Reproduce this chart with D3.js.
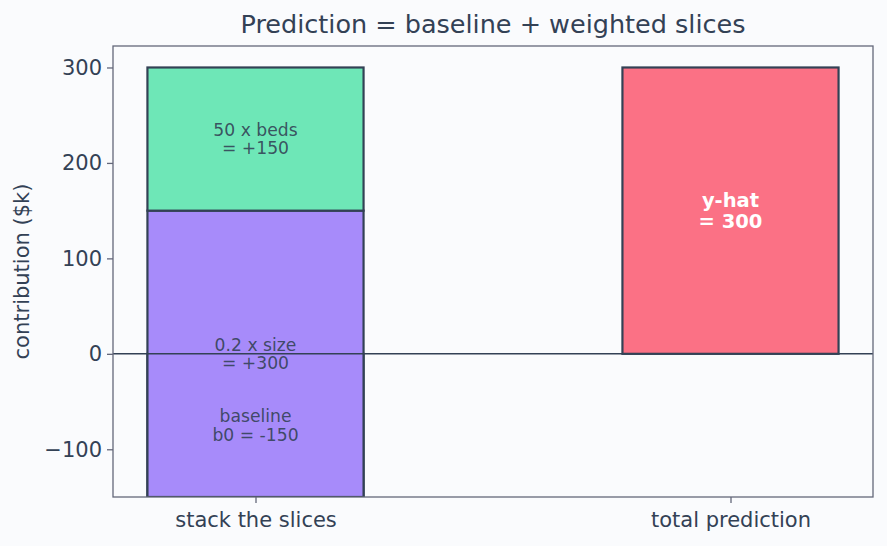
<!DOCTYPE html>
<html>
<head>
<meta charset="utf-8">
<script src="https://cdn.jsdelivr.net/npm/d3@7"></script>
<style>
  body { margin: 0; background: #fafbfd; }
  text { font-family: "DejaVu Sans", sans-serif; }
</style>
</head>
<body>
<div id="chart"></div>
<script>
// categories on the x axis
var categories = ["stack the slices", "total prediction"];

// slices stacked in the first bar
var sliceNames = ["baseline\nb0 = -150", "0.2 x size\n= +300", "50 x beds\n= +150"];
var sliceValues = [-150, 300, 150];
var sliceColors = ["#a78bfa", "#a78bfa", "#6ee7b7"];

var yTicks = [-100, 0, 100, 200, 300];

var width = 887, height = 546;
var margin = { top: 46, right: 14, bottom: 49, left: 113 };

var svg = d3.select("#chart").append("svg")
  .attr("width", width)
  .attr("height", height);

svg.append("rect")
  .attr("width", width).attr("height", height)
  .attr("fill", "#fafbfd");

var x = d3.scaleLinear()
  .domain([-0.3, 1.3])
  .range([margin.left, width - margin.right]);

var y = d3.scaleLinear()
  .domain([-150, 322.5])
  .range([height - margin.bottom, margin.top]);

var barW = 0.455;

// cumulative bottoms for the stack
var bottoms = [];
var acc = 0;
sliceValues.forEach(function (v) { bottoms.push(acc); acc += v; });
var total = acc;

var slices = sliceValues.map(function (v, i) {
  return { name: sliceNames[i], value: v, bottom: bottoms[i], color: sliceColors[i] };
});

var plot = svg.append("g");

// clip to the axes box
svg.append("clipPath").attr("id", "clip")
  .append("rect")
  .attr("x", margin.left).attr("y", margin.top)
  .attr("width", width - margin.left - margin.right)
  .attr("height", height - margin.top - margin.bottom);
plot.attr("clip-path", "url(#clip)");

plot.selectAll("rect.slice")
  .data(slices)
  .enter().append("rect")
  .attr("class", "slice")
  .attr("x", x(0 - barW / 2))
  .attr("width", x(barW) - x(0))
  .attr("y", function (d) { return y(Math.max(d.bottom, d.bottom + d.value)); })
  .attr("height", function (d) { return Math.abs(y(d.bottom) - y(d.bottom + d.value)); })
  .attr("fill", function (d) { return d.color; })
  .attr("stroke", "#334155")
  .attr("stroke-width", 2.2);

// total bar
plot.append("rect")
  .attr("x", x(1 - barW / 2))
  .attr("width", x(barW) - x(0))
  .attr("y", y(total))
  .attr("height", y(0) - y(total))
  .attr("fill", "#fb7185")
  .attr("stroke", "#334155")
  .attr("stroke-width", 2.2);

// zero line
plot.append("line")
  .attr("x1", margin.left).attr("x2", width - margin.right)
  .attr("y1", y(0)).attr("y2", y(0))
  .attr("stroke", "#334155")
  .attr("stroke-width", 1.5);

function multiLine(sel, lines, lh) {
  lines.forEach(function (l, i) {
    sel.append("tspan")
      .attr("x", sel.attr("x"))
      .attr("dy", i === 0 ? (-(lines.length - 1) / 2 * lh + 0.35) + "em" : lh + "em")
      .text(l);
  });
}

// slice labels
slices.forEach(function (d) {
  var t = svg.append("text")
    .attr("x", x(0))
    .attr("y", y(d.bottom + d.value / 2))
    .attr("text-anchor", "middle")
    .attr("font-size", 17.2)
    .attr("fill", "#334155")
    .attr("fill-opacity", 0.9);
  multiLine(t, d.name.split("\n"), 1.07);
});

var tt = svg.append("text")
  .attr("x", x(1))
  .attr("y", y(total / 2))
  .attr("text-anchor", "middle")
  .attr("font-size", 19.5)
  .attr("font-weight", "bold")
  .attr("fill", "white");
multiLine(tt, ["y-hat", "= " + total], 1.12);

// axes box
svg.append("rect")
  .attr("x", margin.left).attr("y", margin.top)
  .attr("width", width - margin.left - margin.right)
  .attr("height", height - margin.top - margin.bottom)
  .attr("fill", "none")
  .attr("stroke", "#64677a")
  .attr("stroke-width", 1.3);

var yAxis = svg.append("g")
  .attr("transform", "translate(" + margin.left + ",0)")
  .call(d3.axisLeft(y).tickValues(yTicks).tickSize(6).tickPadding(5)
    .tickFormat(function (d) { return d < 0 ? "\u2212" + Math.abs(d) : d; }));
yAxis.select(".domain").remove();
yAxis.selectAll("line").attr("stroke", "#64677a").attr("stroke-width", 1.3);
yAxis.selectAll("text").attr("font-size", 21).attr("fill", "#334155")
  .attr("font-family", "DejaVu Sans");

var xAxis = svg.append("g")
  .attr("transform", "translate(0," + (height - margin.bottom) + ")")
  .call(d3.axisBottom(x).tickValues([0, 1]).tickSize(6).tickPadding(9)
    .tickFormat(function (d) { return categories[d]; }));
xAxis.select(".domain").remove();
xAxis.selectAll("line").attr("stroke", "#64677a").attr("stroke-width", 1.3);
xAxis.selectAll("text").attr("font-size", 21).attr("fill", "#334155")
  .attr("font-family", "DejaVu Sans");

svg.append("text")
  .attr("transform", "translate(22," + ((margin.top + height - margin.bottom) / 2) + ") rotate(-90)")
  .attr("text-anchor", "middle")
  .attr("dy", "0.35em")
  .attr("font-size", 21)
  .attr("fill", "#334155")
  .text("contribution ($k)");

svg.append("text")
  .attr("x", (margin.left + width - margin.right) / 2)
  .attr("y", 33)
  .attr("text-anchor", "middle")
  .attr("font-size", 25.5)
  .attr("fill", "#334155")
  .text("Prediction = baseline + weighted slices");
</script>
</body>
</html>
